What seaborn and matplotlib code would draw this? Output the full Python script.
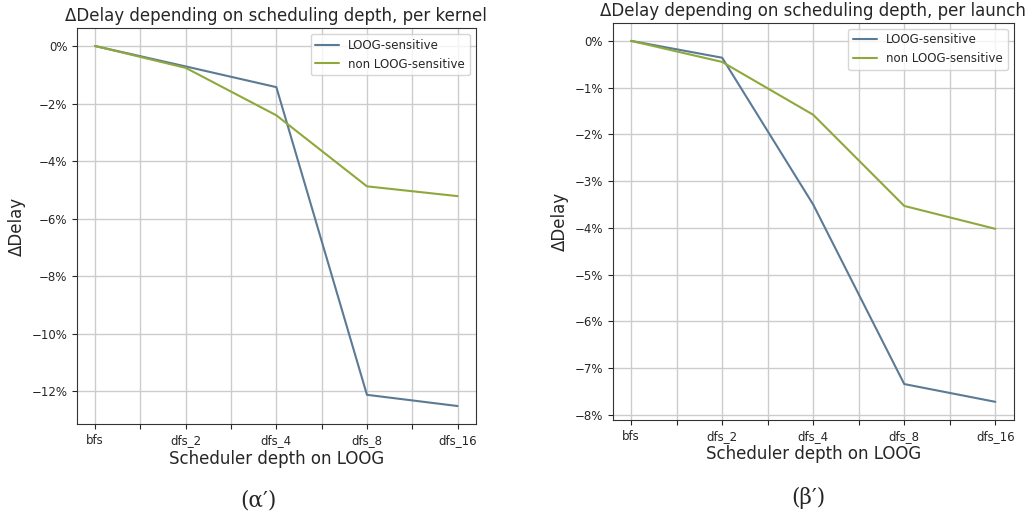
import matplotlib
matplotlib.use("Agg")
import matplotlib.pyplot as plt
import seaborn as sns
import pandas as pd
import numpy as np
from matplotlib.ticker import FuncFormatter

depths = ["bfs", "dfs_2", "dfs_4", "dfs_8", "dfs_16"]
series_names = ["LOOG-sensitive", "non LOOG-sensitive"]

kernel_sensitive = [0.0, -0.71, -1.43, -12.13, -12.52]
kernel_non = [0.0, -0.76, -2.41, -4.88, -5.22]
launch_sensitive = [0.0, -0.36, -3.50, -7.34, -7.72]
launch_non = [0.0, -0.45, -1.58, -3.53, -4.02]

titles = ["ΔDelay depending on scheduling depth, per kernel",
          "ΔDelay depending on scheduling depth, per launch"]
captions = ["(α′)", "(β′)"]
colors = ["#5b7a96", "#8fa83c"]

sns.set_style("ticks")
plt.rcParams['font.family'] = ['DejaVu Sans']

fig = plt.figure(figsize=(10.30, 5.19), dpi=100)
ax1 = fig.add_axes([0.0748, 0.183, 0.387, 0.763])
ax2 = fig.add_axes([0.595, 0.191, 0.389, 0.765])

datasets = [(kernel_sensitive, kernel_non), (launch_sensitive, launch_non)]
for ax, (s, n), title in zip([ax1, ax2], datasets, titles):
    df = pd.DataFrame({
        "x": list(range(len(depths))) * 2,
        "y": s + n,
        "series": [series_names[0]] * len(depths) + [series_names[1]] * len(depths),
    })
    sns.lineplot(data=df, x="x", y="y", hue="series", palette=colors, ax=ax,
                 linewidth=1.5)
    ax.set_xticks(np.linspace(0, len(depths) - 1, 2 * len(depths) - 1))
    labels = []
    for d in depths:
        labels += [d, ""]
    ax.set_xticklabels(labels[:-1], fontsize=8.5)
    ax.yaxis.set_major_formatter(FuncFormatter(lambda v, p: f"{v:.0f}%".replace("-", "\u2212")))
    ax.tick_params(axis="y", labelsize=8.5)
    ax.grid(True, color="#cccccc", linewidth=1)
    for sp in ax.spines.values():
        sp.set_visible(True)
        sp.set_color("#333333")
    ax.set_title(title, fontsize=12, pad=5)
    ax.set_xlabel("Scheduler depth on LOOG", fontsize=12, labelpad=2)
    ax.set_ylabel("ΔDelay", fontsize=12)
    leg = ax.legend(loc="upper right", fontsize=8.5, title=None)

fig.text(0.2508, 0.035, captions[0], fontsize=15.5, family=["DejaVu Serif"], ha="center", va="center")
fig.text(0.7845, 0.04, captions[1], fontsize=15.5, family=["DejaVu Serif"], ha="center", va="center")

fig.savefig("out.png", dpi=100)
